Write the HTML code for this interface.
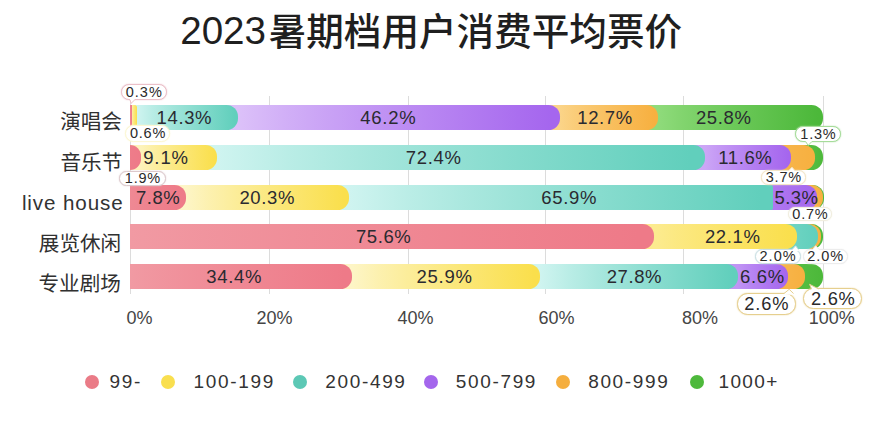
<!DOCTYPE html>
<html lang="zh"><head><meta charset="utf-8"><title>2023暑期档用户消费平均票价</title>
<style>
html,body{margin:0;padding:0;background:#fff;}
body{width:870px;height:436px;position:relative;overflow:hidden;font-family:"Liberation Sans",sans-serif;color:#2a2a2a;}
.grid{position:absolute;top:96px;width:1px;height:198px;background:#dcdcdc;}
.seg{position:absolute;height:24.5px;}
.bl{position:absolute;font-size:18.5px;line-height:24.5px;height:24.5px;white-space:nowrap;color:#2a2a30;}
.ax{position:absolute;top:307.7px;font-size:18px;line-height:20px;color:#454545;white-space:nowrap;}
.co{position:absolute;box-sizing:border-box;background:#fff;border:1px solid #ddd;font-size:14.5px;text-align:center;white-space:nowrap;color:#2a2a2a;}
.lg{position:absolute;top:370.9px;font-size:19px;line-height:22px;letter-spacing:1.65px;color:#333;white-space:nowrap;}
.dot{position:absolute;top:375.3px;width:14px;height:14px;border-radius:50%;}
.yl{position:absolute;font-size:20.6px;line-height:24px;color:#333;white-space:nowrap;}
svg{position:absolute;overflow:visible;}
</style></head><body>

<svg style="left:0;top:0" width="870" height="60" viewBox="0 0 870 60" role="img" aria-label="2023暑期档用户消费平均票价"><title>2023暑期档用户消费平均票价</title><text x="180.2" y="43.7" font-size="38.6" font-weight="500" fill="#1f1f1f" font-family="&quot;Liberation Sans&quot;, &quot;Noto Sans CJK SC&quot;, sans-serif">2023</text><text x="268.7" y="44.6" font-size="37.6" font-weight="500" fill="#1f1f1f" font-family="&quot;Liberation Sans&quot;, &quot;Noto Sans CJK SC&quot;, sans-serif">暑期档用户消费平均票价</text></svg>
<div class="grid" style="left:129.9px"></div>
<div class="grid" style="left:268.8px"></div>
<div class="grid" style="left:407.7px"></div>
<div class="grid" style="left:545.4px"></div>
<div class="grid" style="left:683.3px"></div>
<div class="grid" style="left:823.0px"></div>
<div class="seg" style="left:645.9px;top:105.0px;width:176.7px;border-radius:0 11.5px 11.5px 0;background:linear-gradient(90deg,#8fdb7b 12.0px,83.9px,#4cb83a 171.8px)"></div>
<div class="seg" style="left:548.3px;top:105.0px;width:109.6px;border-radius:0 11.5px 11.5px 0;background:linear-gradient(90deg,#fbd488 12.0px,54.6px,#f7b040 106.7px)"></div>
<div class="seg" style="left:226.0px;top:105.0px;width:334.3px;border-radius:0 11.5px 11.5px 0;background:linear-gradient(90deg,#dcc1f9 12.0px,152.7px,#a566ee 324.6px)"></div>
<div class="seg" style="left:133.9px;top:105.0px;width:104.1px;border-radius:0 11.5px 11.5px 0;background:linear-gradient(90deg,#cff4f0 3.0px,47.1px,#61cfbc 101.1px)"></div>
<div class="seg" style="left:131.8px;top:105.0px;width:5.1px;border-radius:0 2.5px 2.5px 0;background:linear-gradient(90deg,#fced9b 0.5px,2.5px,#fadf4c 5.0px)"></div>
<div class="seg" style="left:130.4px;top:105.0px;width:1.9px;border-radius:0 0.0px 0.0px 0;background:linear-gradient(90deg,#f08a96 0.0px,0.8px,#ee7a88 1.8px)"></div>
<div class="bl" style="left:156.6px;top:105.5px;letter-spacing:0.61px">14.3%</div>
<div class="bl" style="left:360.3px;top:105.5px;letter-spacing:0.71px">46.2%</div>
<div class="bl" style="left:577.3px;top:105.5px;letter-spacing:0.61px">12.7%</div>
<div class="bl" style="left:695.9px;top:105.5px;letter-spacing:0.66px">25.8%</div>
<div class="seg" style="left:802.7px;top:145.2px;width:20.3px;border-radius:0 11.5px 11.5px 0;background:linear-gradient(90deg,#53bc40 12.0px,15.6px,#4cb83a 20.1px)"></div>
<div class="seg" style="left:779.0px;top:145.2px;width:35.7px;border-radius:0 11.5px 11.5px 0;background:linear-gradient(90deg,#f7b448 12.0px,22.3px,#f7b040 35.0px)"></div>
<div class="seg" style="left:693.2px;top:145.2px;width:97.8px;border-radius:0 11.5px 11.5px 0;background:linear-gradient(90deg,#cca6f6 12.0px,49.5px,#a566ee 95.2px)"></div>
<div class="seg" style="left:205.3px;top:145.2px;width:499.9px;border-radius:0 11.5px 11.5px 0;background:linear-gradient(90deg,#cff4f0 12.0px,225.0px,#61cfbc 485.3px)"></div>
<div class="seg" style="left:130.4px;top:145.2px;width:86.9px;border-radius:0 11.5px 11.5px 0;background:linear-gradient(90deg,#fdf3bb 11.1px,44.2px,#fadf4c 84.6px)"></div>
<div class="seg" style="left:130.4px;top:145.2px;width:11.1px;border-radius:0 11.1px 11.1px 0;background:linear-gradient(90deg,#ee7d8a 0.0px,4.8px,#ee7a88 10.8px)"></div>
<div class="bl" style="left:143.2px;top:145.7px;letter-spacing:0.88px">9.1%</div>
<div class="bl" style="left:405.7px;top:145.7px;letter-spacing:0.71px">72.4%</div>
<div class="bl" style="left:718.3px;top:145.7px;letter-spacing:0.61px">11.6%</div>
<div class="seg" style="left:810.6px;top:185.3px;width:13.0px;border-radius:0 11.5px 11.5px 0;background:linear-gradient(90deg,#51bb3f 12.0px,12.4px,#4cb83a 13.0px)"></div>
<div class="seg" style="left:805.4px;top:185.3px;width:17.2px;border-radius:0 11.5px 11.5px 0;background:linear-gradient(90deg,#f7b346 12.0px,14.3px,#f7b040 17.0px)"></div>
<div class="seg" style="left:770.9px;top:185.3px;width:46.5px;border-radius:0 11.5px 11.5px 0;background:linear-gradient(90deg,#b078f0 2.5px,21.7px,#a566ee 45.2px)"></div>
<div class="seg" style="left:337.3px;top:185.3px;width:436.1px;border-radius:0 2.0px 2.0px 0;background:linear-gradient(90deg,#cff4f0 12.0px,197.1px,#61cfbc 423.4px)"></div>
<div class="seg" style="left:174.2px;top:185.3px;width:175.1px;border-radius:0 11.5px 11.5px 0;background:linear-gradient(90deg,#fdf5c6 12.0px,83.2px,#fadf4c 170.2px)"></div>
<div class="seg" style="left:130.4px;top:185.3px;width:55.8px;border-radius:0 11.5px 11.5px 0;background:linear-gradient(90deg,#ef8994 0.0px,24.4px,#ee7a88 54.1px)"></div>
<div class="bl" style="left:135.9px;top:185.8px;letter-spacing:0.55px">7.8%</div>
<div class="bl" style="left:239.4px;top:185.8px;letter-spacing:0.64px">20.3%</div>
<div class="bl" style="left:541.2px;top:185.8px;letter-spacing:0.71px">65.9%</div>
<div class="bl" style="left:774.6px;top:185.8px;letter-spacing:0.38px">5.3%</div>
<div class="seg" style="left:809.0px;top:224.0px;width:13.9px;border-radius:0 11.5px 11.5px 0;background:linear-gradient(90deg,#51bb3f 12.0px,12.8px,#4cb83a 13.8px)"></div>
<div class="seg" style="left:806.2px;top:224.0px;width:14.8px;border-radius:0 11.5px 11.5px 0;background:linear-gradient(90deg,#f7b346 12.0px,13.2px,#f7b040 14.7px)"></div>
<div class="seg" style="left:785.0px;top:224.0px;width:33.2px;border-radius:0 11.5px 11.5px 0;background:linear-gradient(90deg,#6cd3c1 12.0px,21.3px,#61cfbc 32.6px)"></div>
<div class="seg" style="left:642.5px;top:224.0px;width:154.5px;border-radius:0 11.5px 11.5px 0;background:linear-gradient(90deg,#fceb8f 12.0px,74.2px,#fadf4c 150.2px)"></div>
<div class="seg" style="left:130.4px;top:224.0px;width:524.1px;border-radius:0 11.5px 11.5px 0;background:linear-gradient(90deg,#f19aa3 0.0px,228.8px,#ee7a88 508.4px)"></div>
<div class="bl" style="left:355.9px;top:224.5px;letter-spacing:0.61px">75.6%</div>
<div class="bl" style="left:704.9px;top:224.5px;letter-spacing:0.66px">22.1%</div>
<div class="seg" style="left:793.0px;top:264.4px;width:30.2px;border-radius:0 11.5px 11.5px 0;background:linear-gradient(90deg,#53bc40 12.0px,19.9px,#4cb83a 29.7px)"></div>
<div class="seg" style="left:776.0px;top:264.4px;width:29.0px;border-radius:0 11.5px 11.5px 0;background:linear-gradient(90deg,#f7b448 12.0px,19.4px,#f7b040 28.5px)"></div>
<div class="seg" style="left:726.3px;top:264.4px;width:61.7px;border-radius:0 11.5px 11.5px 0;background:linear-gradient(90deg,#c094f4 12.0px,33.7px,#a566ee 60.2px)"></div>
<div class="seg" style="left:527.7px;top:264.4px;width:210.6px;border-radius:0 11.5px 11.5px 0;background:linear-gradient(90deg,#cff4f0 12.0px,98.7px,#61cfbc 204.6px)"></div>
<div class="seg" style="left:339.7px;top:264.4px;width:200.0px;border-radius:0 11.5px 11.5px 0;background:linear-gradient(90deg,#fdf5c6 12.0px,94.1px,#fadf4c 194.4px)"></div>
<div class="seg" style="left:130.4px;top:264.4px;width:221.3px;border-radius:0 11.5px 11.5px 0;background:linear-gradient(90deg,#f19aa3 0.0px,96.6px,#ee7a88 214.7px)"></div>
<div class="bl" style="left:206.2px;top:264.9px;letter-spacing:0.71px">34.4%</div>
<div class="bl" style="left:416.6px;top:264.9px;letter-spacing:0.71px">25.9%</div>
<div class="bl" style="left:606.7px;top:264.9px;letter-spacing:0.59px">27.8%</div>
<div class="bl" style="left:740.1px;top:264.9px;letter-spacing:0.61px">6.6%</div>
<svg style="left:0;top:0" width="130" height="436" role="img" aria-label="演唱会"><title>演唱会</title><text x="60.2" y="129.2" font-size="20.6" fill="#303030" font-family="&quot;Liberation Sans&quot;, &quot;Noto Sans CJK SC&quot;, sans-serif">演唱会</text></svg>
<svg style="left:0;top:0" width="130" height="436" role="img" aria-label="音乐节"><title>音乐节</title><text x="60.5" y="169.8" font-size="20.6" fill="#303030" font-family="&quot;Liberation Sans&quot;, &quot;Noto Sans CJK SC&quot;, sans-serif">音乐节</text></svg>
<div class="yl" style="left:21.9px;top:190.6px;letter-spacing:0.9px">live house</div>
<svg style="left:0;top:0" width="130" height="436" role="img" aria-label="展览休闲"><title>展览休闲</title><text x="38.8" y="251.3" font-size="20.6" fill="#303030" font-family="&quot;Liberation Sans&quot;, &quot;Noto Sans CJK SC&quot;, sans-serif">展览休闲</text></svg>
<svg style="left:0;top:0" width="130" height="436" role="img" aria-label="专业剧场"><title>专业剧场</title><text x="38.5" y="290.7" font-size="20.6" fill="#303030" font-family="&quot;Liberation Sans&quot;, &quot;Noto Sans CJK SC&quot;, sans-serif">专业剧场</text></svg>
<div class="ax" style="left:126.4px">0%</div>
<div class="ax" style="left:256.6px">20%</div>
<div class="ax" style="left:397.6px">40%</div>
<div class="ax" style="left:538.6px">60%</div>
<div class="ax" style="left:682.0px">80%</div>
<div class="ax" style="left:808.8px">100%</div>
<div class="dot" style="left:85.0px;background:#ea7b87"></div>
<div class="lg" style="left:109.5px">99-</div>
<div class="dot" style="left:161.0px;background:#f9df4f"></div>
<div class="lg" style="left:193.6px">100-199</div>
<div class="dot" style="left:293.3px;background:#5cc8b5"></div>
<div class="lg" style="left:325.3px">200-499</div>
<div class="dot" style="left:423.6px;background:#a466ec"></div>
<div class="lg" style="left:455.8px">500-799</div>
<div class="dot" style="left:556.1px;background:#f5ae3e"></div>
<div class="lg" style="left:588.2px">800-999</div>
<div class="dot" style="left:689.6px;background:#4eb93c"></div>
<div class="lg" style="left:718.5px;letter-spacing:1.35px">1000+</div>
<div class="co" style="left:120.7px;top:83.6px;width:46.1px;height:16.7px;border-radius:8.4px;box-shadow:0 0 1.5px #ebc0c9;border-color:#ebc0c9;font-size:14.5px;line-height:15.3px;letter-spacing:1.05px;text-indent:1.05px">0.3%</div>
<svg style="left:0;top:0" width="870" height="436"><path d="M130.0 98.6L130.0 99.8L131.0 103.4L134.8 99.8L134.8 98.6Z" fill="#fff"/><path d="M130.0 99.8L131.0 103.4L134.8 99.8" fill="none" stroke="#ebc0c9" stroke-width="1" stroke-linejoin="round"/></svg>
<div class="co" style="left:124.8px;top:124.8px;width:45.6px;height:16.8px;border-radius:8.4px;box-shadow:0 0 1.5px #fcf7d2;border-color:#fcf7d2;font-size:14.5px;line-height:15.4px;letter-spacing:0.78px;text-indent:0.78px">0.6%</div>
<div class="co" style="left:119.4px;top:171.0px;width:46.2px;height:14.9px;border-radius:7.5px;box-shadow:0 0 1.5px #dcc9cc;border-color:#dcc9cc;font-size:14.5px;line-height:13.5px;letter-spacing:0.78px;text-indent:0.78px">1.9%</div>
<div class="co" style="left:794.7px;top:125.9px;width:46.6px;height:16.0px;border-radius:8.0px;box-shadow:0 0 1.5px #a6dc9a;border-color:#a6dc9a;font-size:14.5px;line-height:14.6px;letter-spacing:0.78px;text-indent:0.78px">1.3%</div>
<svg style="left:0;top:0" width="870" height="436"><path d="M805.5 140.2L805.5 141.4L808.2 145.4L812.0 141.4L812.0 140.2Z" fill="#fff"/><path d="M805.5 141.4L808.2 145.4L812.0 141.4" fill="none" stroke="#a6dc9a" stroke-width="1" stroke-linejoin="round"/></svg>
<div class="co" style="left:760.6px;top:170.3px;width:45.7px;height:14.6px;border-radius:7.3px;box-shadow:0 0 1.5px #f3e5c6;border-color:#f3e5c6;font-size:14.5px;line-height:13.2px;letter-spacing:0.78px;text-indent:0.78px">3.7%</div>
<svg style="left:0;top:0" width="870" height="436"><path d="M788.5 172.0L788.5 170.8L792.0 167.2L795.0 170.8L795.0 172.0Z" fill="#fff"/><path d="M788.5 170.8L792.0 167.2L795.0 170.8" fill="none" stroke="#f3e5c6" stroke-width="1" stroke-linejoin="round"/></svg>
<div class="co" style="left:788.0px;top:206.6px;width:44.0px;height:14.4px;border-radius:7.2px;box-shadow:0 0 1.5px #f1eedf;border-color:#f1eedf;font-size:14.5px;line-height:13.0px;letter-spacing:0.78px;text-indent:0.78px">0.7%</div>
<div class="co" style="left:754.6px;top:249.2px;width:46.0px;height:15.2px;border-radius:7.6px;box-shadow:0 0 1.5px #cadfe3;border-color:#cadfe3;font-size:14.5px;line-height:13.8px;letter-spacing:0.98px;text-indent:0.98px">2.0%</div>
<svg style="left:0;top:0" width="870" height="436"><path d="M792.0 250.9L792.0 249.7L795.6 245.8L798.5 249.7L798.5 250.9Z" fill="#fff"/><path d="M792.0 249.7L795.6 245.8L798.5 249.7" fill="none" stroke="#cadfe3" stroke-width="1" stroke-linejoin="round"/></svg>
<div class="co" style="left:802.6px;top:249.2px;width:45.2px;height:15.2px;border-radius:7.6px;box-shadow:0 0 1.5px #ececec;border-color:#ececec;font-size:14.5px;line-height:13.8px;letter-spacing:0.92px;text-indent:0.92px">2.0%</div>
<svg style="left:0;top:0" width="870" height="436"><path d="M812.5 250.9L812.5 249.7L815.6 245.8L819.5 249.7L819.5 250.9Z" fill="#fff"/><path d="M812.5 249.7L815.6 245.8L819.5 249.7" fill="none" stroke="#ececec" stroke-width="1" stroke-linejoin="round"/></svg>
<div class="co" style="left:737.0px;top:293.0px;width:58.8px;height:21.7px;border-radius:10.8px;box-shadow:0 0 1.5px #e6cf8e;border-color:#e6cf8e;font-size:18.3px;line-height:20.3px;letter-spacing:0.86px;text-indent:0.86px">2.6%</div>
<svg style="left:0;top:0" width="870" height="436"><path d="M784.0 294.7L784.0 293.5L789.2 289.3L793.5 293.5L793.5 294.7Z" fill="#fff"/><path d="M784.0 293.5L789.2 289.3L793.5 293.5" fill="none" stroke="#e6cf8e" stroke-width="1" stroke-linejoin="round"/></svg>
<div class="co" style="left:803.3px;top:288.4px;width:59.2px;height:21.1px;border-radius:10.6px;box-shadow:0 0 1.5px #e6cf8e;border-color:#e6cf8e;font-size:18.3px;line-height:19.7px;letter-spacing:0.70px;text-indent:0.70px">2.6%</div>
<svg style="left:0;top:0" width="870" height="436"><path d="M811.5 290.1L811.5 288.9L809.6 284.3L818.5 288.9L818.5 290.1Z" fill="#fff"/><path d="M811.5 288.9L809.6 284.3L818.5 288.9" fill="none" stroke="#e6cf8e" stroke-width="1" stroke-linejoin="round"/></svg>
</body></html>
